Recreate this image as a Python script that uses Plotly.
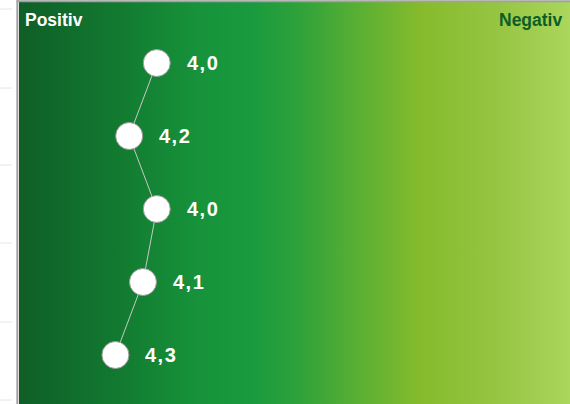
import plotly.graph_objects as go

# mean scores per item, top to bottom (scale 1..5, 5 = Positiv on the left)
items = ["Item 1", "Item 2", "Item 3", "Item 4", "Item 5"]
scores = [4.0, 4.2, 4.0, 4.1, 4.3]
scale_left, scale_right = 5, 1
label_left = "Positiv"
label_right = "Negativ"

rows = list(range(len(items)))
y_top, y_bottom = -0.836, 4.671

gradient = [
    [0.0, "#0f5e27"], [0.18, "#127a30"], [0.33, "#17933b"], [0.42, "#199a3e"],
    [0.51, "#2fa23a"], [0.62, "#5bb033"], [0.73, "#86bb2c"], [0.88, "#98c645"],
    [1.0, "#aad75c"],
]

fig = go.Figure()

# gradient background
fig.add_trace(go.Scatter(
    x=[scale_left, scale_right, scale_right, scale_left, scale_left],
    y=[y_top, y_top, y_bottom, y_bottom, y_top],
    mode="lines", line=dict(width=0), fill="toself",
    fillgradient=dict(type="horizontal", colorscale=gradient),
    hoverinfo="skip", showlegend=False,
))

fig.add_trace(go.Scatter(
    x=scores, y=rows, mode="lines+markers",
    line=dict(color="#c8c8c8", width=1),
    marker=dict(size=27, color="white", line=dict(color="#999999", width=1)),
    hoverinfo="skip", showlegend=False,
))

for r, s in zip(rows, scores):
    label = f"{s:.1f}".replace(".", ",")
    fig.add_annotation(
        x=s, y=r, text=f'<span style="letter-spacing:1.5px">{label}</span>', showarrow=False,
        xanchor="left", xshift=28,
        font=dict(family="Liberation Sans, Arial", size=20, color="white", weight="bold"),
    )

fig.add_annotation(xref="paper", yref="paper", x=0.008, y=0.954, xanchor="left", yanchor="middle",
                   text=label_left, showarrow=False,
                   font=dict(family="Liberation Sans, Arial", size=17.5, color="white", weight="bold"))
fig.add_annotation(xref="paper", yref="paper", x=0.989, y=0.954, xanchor="right", yanchor="middle",
                   text=label_right, showarrow=False,
                   font=dict(family="Liberation Sans, Arial", size=17.5, color="#0b5e27", weight="bold"))

# row separators in the left margin and the frame
shapes = []
for py in [9, 88, 165, 243, 322, 400]:
    yp = 1 - (py - 2) / 402
    shapes.append(dict(type="line", xref="paper", yref="paper", x0=-19 / 551, x1=-7 / 551,
                       y0=yp, y1=yp, line=dict(color="#e6e6e0", width=1)))
shapes.append(dict(type="line", xref="paper", yref="paper", x0=-0.003, x1=-0.003, y0=0, y1=1.005,
                   line=dict(color="#a0a0a0", width=2)))
shapes.append(dict(type="line", xref="paper", yref="paper", x0=-0.004, x1=1, y0=1.002, y1=1.002,
                   line=dict(color="#a0a0a0", width=2)))

fig.update_layout(
    width=570, height=404,
    margin=dict(l=19, r=0, t=2, b=0),
    paper_bgcolor="white", plot_bgcolor="white",
    shapes=shapes,
    xaxis=dict(range=[scale_left, scale_right], visible=False, fixedrange=True),
    yaxis=dict(range=[y_bottom, y_top], visible=False, fixedrange=True),
)

fig.write_html("out.html", config={"displayModeBar": False},
               post_script="document.body.style.margin='0';")
